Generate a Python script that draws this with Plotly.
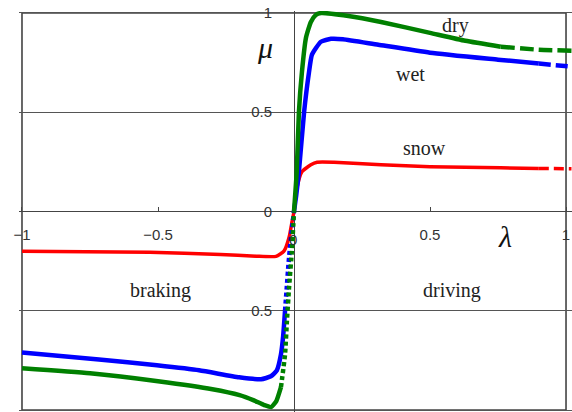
import plotly.graph_objects as go

# slip ratio λ and friction coefficient μ
lam_dry = [-1.0, -0.75, -0.5, -0.3, -0.2, -0.15, -0.11, -0.084, -0.065, -0.048, -0.033, -0.026, -0.018, -0.008, 0.0,
           0.01, 0.018, 0.029, 0.044, 0.062, 0.08, 0.099, 0.2, 0.32, 0.5, 0.63, 0.76, 0.9, 1.02]
mu_dry = [-0.79, -0.815, -0.855, -0.895, -0.925, -0.95, -0.975, -0.985, -0.955, -0.885, -0.72, -0.55, -0.38, -0.2, 0.0,
          0.2, 0.5, 0.70, 0.875, 0.955, 0.99, 1.0, 0.985, 0.955, 0.90, 0.86, 0.83, 0.815, 0.81]

lam_wet = [-1.0, -0.717, -0.504, -0.349, -0.202, -0.121, -0.085, -0.063, -0.048, -0.040, -0.033, -0.027, -0.02, -0.011, 0.0,
           0.008, 0.018, 0.037, 0.055, 0.066, 0.099, 0.136, 0.18, 0.31, 0.5, 0.75, 0.9, 1.02]
mu_wet = [-0.71, -0.745, -0.775, -0.80, -0.835, -0.845, -0.83, -0.80, -0.72, -0.63, -0.50, -0.39, -0.26, -0.13, 0.0,
          0.08, 0.2, 0.5, 0.70, 0.79, 0.855, 0.87, 0.868, 0.84, 0.80, 0.765, 0.745, 0.73]

lam_snow = [-1.0, -0.53, -0.27, -0.14, -0.066, -0.037, -0.018, -0.007, 0.0,
            0.011, 0.029, 0.062, 0.085, 0.147, 0.32, 0.5, 0.76, 0.9, 1.02]
mu_snow = [-0.20, -0.205, -0.216, -0.225, -0.226, -0.20, -0.13, -0.05, 0.0,
           0.12, 0.2, 0.235, 0.248, 0.248, 0.236, 0.226, 0.22, 0.217, 0.215]

x_ticks = [-1, -0.5, 0.5, 1]
x_tick_text = ["−1", "−0.5", "0.5", "1"]
x_zero_label = "0"
y_ticks = [-1, -0.5, 0, 0.5, 1]
y_tick_text = ["1", "0.5", "0", "0.5", "1"]

curve_labels = [("dry", 0.592, 0.937), ("wet", 0.43, 0.695), ("snow", 0.478, 0.32),
                ("braking", -0.49, -0.398), ("driving", 0.58, -0.398)]

fig = go.Figure()


def add_piece(lam, mu, lo, hi, color, width, dash):
    xs = [l for l in lam if lo <= l <= hi]
    ys = [m for l, m in zip(lam, mu) if lo <= l <= hi]
    fig.add_trace(go.Scatter(x=xs, y=ys, mode="lines",
                             line=dict(color=color, width=width, dash=dash,
                                       shape="spline", smoothing=0.5),
                             showlegend=False, hoverinfo="skip"))


# (curve, colour, width, [(from λ, to λ, dash)])
styles = [
    (lam_snow, mu_snow, "#ff0000", 3.5, [(-1.1, 0.9, "solid"), (0.9, 1.1, "10px,5px")]),
    (lam_wet, mu_wet, "#0000ff", 4.5, [(-1.1, -0.033, "solid"), (-0.033, 0.0, "4px,3px"),
                                       (0.0, 0.9, "solid"), (0.9, 1.1, "12px,5px")]),
    (lam_dry, mu_dry, "#008000", 4.5, [(-1.1, -0.048, "solid"), (-0.048, 0.0, "4px,3px"),
                                       (0.0, 0.76, "solid"), (0.76, 1.1, "14px,5px")]),
]
for lam, mu, color, w, pieces in styles:
    for lo, hi, dash in pieces:
        add_piece(lam, mu, lo, hi, color, w, dash)

xmin, xmax = -1.011, 1.022
ymin, ymax = -1.01, 1.01
tick_font = dict(family="Liberation Sans", size=15, color="#333")
fig.update_layout(
    width=572, height=412,
    margin=dict(l=19, r=0, t=11, b=0),
    paper_bgcolor="white", plot_bgcolor="white",
    xaxis=dict(range=[xmin, xmax], anchor="free", position=0.5, automargin=False,
               tickvals=x_ticks, ticktext=x_tick_text,
               ticks="inside", ticklen=5, tickcolor="#444", tickwidth=1,
               ticklabelstandoff=12,
               showgrid=False, zeroline=True, zerolinecolor="#444", zerolinewidth=1.3,
               showline=False, tickfont=tick_font),
    yaxis=dict(range=[ymin, ymax], anchor="free", position=-xmin / (xmax - xmin), automargin=False,
               tickvals=y_ticks, ticktext=y_tick_text, ticks="",
               ticklabelstandoff=22,
               showgrid=True, gridcolor="#555", gridwidth=1.3,
               zeroline=True, zerolinecolor="#444", zerolinewidth=1.3,
               showline=False, tickfont=tick_font),
    shapes=[dict(type="rect", xref="x", yref="y", x0=-1, x1=1, y0=-1, y1=1,
                 line=dict(color="#444", width=1.6), layer="below")],
)

fig.add_annotation(x=0, y=0, text=x_zero_label, showarrow=False, yshift=-28, xshift=-1,
                   font=tick_font)

for text, x, y in curve_labels:
    fig.add_annotation(x=x, y=y, text=text, showarrow=False,
                       font=dict(family="Liberation Serif", size=20, color="#222"))

fig.add_annotation(x=-0.105, y=0.825, text="<i>μ</i>", showarrow=False,
                   font=dict(family="Liberation Serif", size=30, color="#111"))
fig.add_annotation(x=0.776, y=-0.125, text="<i>λ</i>", showarrow=False,
                   font=dict(family="Liberation Serif", size=30, color="#111"))

fig.write_html("out.html", config={"displayModeBar": False},
               post_script="document.body.style.margin='0';document.body.style.overflow='hidden';")
